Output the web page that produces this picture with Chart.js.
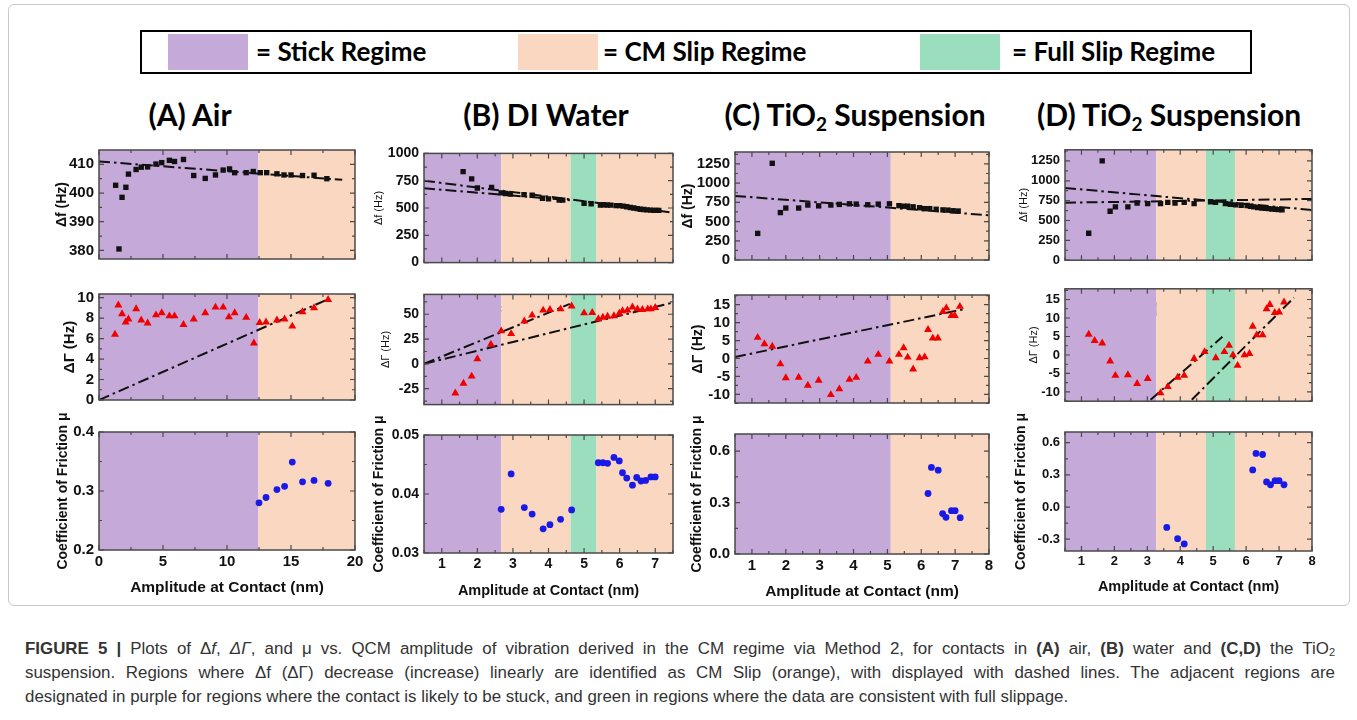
<!DOCTYPE html>
<html>
<head>
<meta charset="utf-8">
<script src="https://cdn.jsdelivr.net/npm/chart.js@4.4.1/dist/chart.umd.min.js"></script>
<style>
body { margin:0; background:#fff; width:1357px; height:720px; position:relative; overflow:hidden; font-family:'Liberation Sans', Arial, sans-serif; }
.abs { position:absolute; }
#frame { left:8px; top:4px; width:1340px; height:600px; border:1px solid #c8c8c8; border-radius:6px; }
#legend { left:140px; top:30px; width:1108px; height:40px; border:2px solid #000; }
.patch { position:absolute; top:2px; height:36px; width:80px; }
.lgtext { position:absolute; top:3px; line-height:40px; font:bold 26px Lato, sans-serif; color:#000; white-space:nowrap; }
.title { position:absolute; font:bold 30px Lato, sans-serif; color:#000; white-space:nowrap; transform:translateX(-50%); line-height:1; }
.title sub { font-size:19px; vertical-align:-5px; }
.note { position:absolute; font:bold 22px 'Liberation Serif', serif; white-space:nowrap; line-height:1; color:#000; }
canvas { position:absolute; }
#caption { left:25px; top:637px; width:1310px; font:16.9px 'Liberation Sans', Arial, sans-serif; color:#333; line-height:24px; }
#caption div { white-space:nowrap; }
#caption .j { text-align:justify; text-align-last:justify; }
#caption sub { font-size:11px; vertical-align:-2px; line-height:0; }
</style>
</head>
<body>
<div id="frame" class="abs"></div>
<div id="legend" class="abs">
  <div class="patch" style="left:26px;background:#c5a9d9"></div>
  <div class="lgtext" style="left:114px">= Stick Regime</div>
  <div class="patch" style="left:376px;background:#f9d7c0"></div>
  <div class="lgtext" style="left:461px">= CM Slip Regime</div>
  <div class="patch" style="left:778px;background:#9bdebd"></div>
  <div class="lgtext" style="left:870px">= Full Slip Regime</div>
</div>
<div class="title" style="left:190px;top:99px">(A) Air</div>
<div class="title" style="left:546px;top:99px">(B) DI Water</div>
<div class="title" style="left:855px;top:99px">(C) TiO<sub>2</sub> Suspension</div>
<div class="title" style="left:1169px;top:99px">(D) TiO<sub>2</sub> Suspension</div>
<div class="note" style="left:432px;top:298px">ΔΓ(0) = 0</div>
<div class="note" style="left:753px;top:296px">ΔΓ(0) = 0</div>
<div class="note" style="left:1076px;top:298px">ΔΓ(0) ≠ 0</div>
<div id="caption" class="abs">
  <div class="j"><b>FIGURE 5 |</b> Plots of Δ<i>f</i>, <i>ΔΓ</i>, and μ vs. QCM amplitude of vibration derived in the CM regime via Method 2, for contacts in <b>(A)</b> air, <b>(B)</b> water and <b>(C,D)</b> the TiO<sub>2</sub></div>
  <div class="j">suspension. Regions where Δf (ΔΓ) decrease (increase) linearly are identified as CM Slip (orange), with displayed with dashed lines. The adjacent regions are</div>
  <div>designated in purple for regions where the contact is likely to be stuck, and green in regions where the data are consistent with full slippage.</div>
</div>

<script>
// ---------- data ----------
// (A) Air
const aFx = [1.3,1.56,1.8,2.1,2.3,2.9,3.3,3.8,4.45,4.9,5.5,5.9,6.6,7.4,8.3,9.1,9.7,10.2,10.6,11.5,12.05,12.6,13.1,13.9,14.45,15.0,15.9,16.8,17.8];
const aFy = [402.7,380.5,398.5,402,406.6,408.2,409,409.1,410.1,410.6,411.4,411,411.7,406.1,405.1,406.3,408,408.4,407.1,407.1,407.5,407.1,407.1,406.7,406.3,406.3,406.1,406.2,405];
const aGx = [1.25,1.51,1.8,2.08,2.3,2.9,3.3,3.8,4.45,4.9,5.5,5.9,6.6,7.4,8.3,9.1,9.7,10.15,10.6,11.5,12.1,12.55,13.05,13.9,14.5,15.1,15.9,16.8,17.9];
const aGy = [6.4,9.26,8.4,7.6,7.9,8.9,7.8,7.5,8.3,8.5,8.2,8.2,7.35,7.9,8.5,9.05,9.05,8.1,8.5,8.05,5.55,7.55,7.6,7.8,7.9,7.2,8.6,9.0,9.8];
const aMx = [12.5,13.05,13.9,14.5,15.1,15.9,16.8,17.9];
const aMy = [0.28,0.289,0.3025,0.308,0.349,0.3155,0.318,0.313];
const aFitFx = [0,19], aFitFy = [411,404.6];
const aFitGx = [0,18], aFitGy = [0,9.9];
const aBounds = [0,12.45,20], aKinds = ['stick','slip'];

// (B) DI water
const bFx = [1.6,1.84,2.0,2.4,2.67,2.79,2.93,3.31,3.54,3.83,4.0,4.3,4.4,5.0,5.2,5.46,5.55,5.65,5.75,5.9,6.0,6.1,6.2,6.3,6.4,6.5,6.58,6.68,6.77,6.87,6.96,7.03,7.1];
const bFy = [833,767,683,689,639,633,628,622,617,589,583,572,572,544,539,528,530,528,526,522,522,517,511,505,500,494,489,486,483,480,478,478,478];
const bGx = [1.38,1.61,1.84,2.0,2.38,2.67,2.95,3.32,3.54,3.85,4.04,4.34,4.65,5.0,5.23,5.4,5.53,5.66,5.84,5.99,6.08,6.22,6.36,6.5,6.64,6.79,6.88,7.0];
const bGy = [-29.4,-19.7,-12.5,5,19.7,33.1,30.3,43.1,49,54,54.7,55.3,58.1,51.2,51.6,45.3,46.9,47.8,48.4,50.9,53.4,54,57.2,55.3,54.7,55.3,55.3,56.6];
const bMx = [2.67,2.95,3.32,3.54,3.85,4.04,4.34,4.65,5.4,5.53,5.66,5.84,5.99,6.08,6.2,6.36,6.48,6.6,6.73,6.88,7.0];
const bMy = [0.0374,0.0434,0.0377,0.0366,0.0341,0.0348,0.0357,0.0373,0.0453,0.0453,0.0452,0.0462,0.0456,0.0436,0.0427,0.0415,0.0428,0.0422,0.0423,0.0429,0.0429];
const bFit1x = [0.5,7.45], bFit1y = [750,460];
const bFit2x = [0.5,4.6], bFit2y = [680,572];
const bGFit1x = [0.5,4.6], bGFit1y = [0,60.4];
const bGFit2x = [0.5,7.5], bGFit2y = [0,61.8];
const bBounds = [0.5,2.67,4.62,5.35,7.5], bKinds = ['stick','slip','full','slip'];

// (C) TiO2 suspension
const cFx = [1.17,1.6,1.84,2.0,2.38,2.65,2.97,3.33,3.58,3.88,4.08,4.42,4.73,5.06,5.34,5.48,5.6,5.76,5.95,6.1,6.25,6.44,6.64,6.79,6.94,7.09];
const cFy = [346,1258,617,676,676,715,704,715,723,731,727,719,727,731,707,700,700,692,680,668,668,660,652,649,641,637];
const cGx = [1.17,1.37,1.6,1.84,2.0,2.38,2.65,2.97,3.33,3.58,3.88,4.08,4.42,4.73,5.06,5.34,5.48,5.6,5.76,5.95,6.1,6.2,6.34,6.49,6.64,6.74,6.89,6.99,7.14];
const cGy = [5.85,4.07,3.39,-1.53,-5.4,-5.25,-7.5,-6.1,-10.1,-8.5,-5.85,-5.3,-0.76,1.1,-0.76,1.1,2.97,0.34,-2.97,0.17,0.42,8.05,5.68,5.68,13.05,14.07,11.95,11.95,14.5];
const cMx = [6.2,6.3,6.5,6.63,6.73,6.89,7.0,7.15];
const cMy = [0.353,0.505,0.489,0.236,0.214,0.253,0.253,0.212];
const cFitx = [0.5,8.0], cFity = [833,582];
const cGFitx = [0.5,7.24], cGFity = [0.42,13.7];
const cBounds = [0.5,5.1,8], cKinds = ['stick','slip'];

// (D) TiO2 suspension
const dFx = [1.22,1.63,1.87,2.03,2.41,2.69,3.01,3.4,3.62,3.84,4.12,4.42,4.92,5.07,5.37,5.52,5.68,5.85,6.03,6.13,6.23,6.35,6.48,6.58,6.68,6.78,6.89,6.98,7.09];
const dFy = [340,1250,617,672,672,720,712,712,728,720,728,712,736,728,712,704,696,692,688,680,672,664,657,653,649,645,641,637,633];
const dGx = [1.22,1.4,1.63,1.87,2.03,2.41,2.69,3.01,3.4,3.62,3.92,4.12,4.42,4.74,5.08,5.34,5.48,5.6,5.74,5.95,6.1,6.2,6.32,6.5,6.62,6.72,6.87,7.0,7.15];
const dGy = [5.56,3.87,3.2,-1.67,-5.56,-5.4,-7.74,-6.4,-10.3,-8.6,-6.05,-5.56,-1.0,0.86,-0.8,0.86,2.6,0,-2.85,0,0.35,7.74,5.4,5.4,12.45,13.6,11.45,11.6,14.3];
const dMx = [3.59,3.92,4.12,6.2,6.3,6.5,6.62,6.74,6.88,7.0,7.15];
const dMy = [-0.19,-0.295,-0.344,0.346,0.5,0.49,0.234,0.208,0.246,0.246,0.208];
const dFit1x = [0.5,8], dFit1y = [910,633];
const dFit2x = [0.5,8], dFit2y = [724,771];
const dGFit1x = [3.1,5.28], dGFit1y = [-12.1,4.9];
const dGFit2x = [4.35,7.45], dGFit2y = [-12.1,15.5];
const dBounds = [0.5,3.27,4.78,5.66,8], dKinds = ['stick','slip','full','slip'];

// ticks
const xTicksA = [0,5,10,15,20], xMinorA = [2.5,7.5,12.5,17.5];
const xTicksB = [1,2,3,4,5,6,7], xMinorB = [0.5,1.5,2.5,3.5,4.5,5.5,6.5,7.5];
const xTicksCD = [1,2,3,4,5,6,7,8], xMinorCD = [0.5,1.5,2.5,3.5,4.5,5.5,6.5,7.5];
const fTicksA = [380,390,400,410], fMinorA = [385,395,405];
const gTicksA = [0,2,4,6,8,10], gMinorA = [1,3,5,7,9];
const mTicksA = [0.2,0.3,0.4], mMinorA = [0.25,0.35];
const fTicksB = [0,250,500,750,1000], fMinorB = [125,375,625,875];
const gTicksB = [-25,0,25,50], gMinorB = [-37.5,-12.5,12.5,37.5,62.5];
const mTicksB = [0.03,0.04,0.05], mMinorB = [0.035,0.045];
const fTicksCD = [0,250,500,750,1000,1250], fMinorCD = [125,375,625,875,1125,1375];
const gTicksCD = [-10,-5,0,5,10,15], gMinorCD = [-12.5,-7.5,-2.5,2.5,7.5,12.5,17.5];
const mTicksC = [0,0.3,0.6], mMinorC = [0.15,0.45];
const mTicksD = [-0.3,0,0.3,0.6], mMinorD = [-0.15,0.15,0.45];

// ---------- styles ----------
const REGION_COLORS = { stick: '#c5a9d9', slip: '#f9d7c0', full: '#9bdebd' };
const FRAME = '#4a4a4a';

function pts(xs, ys) { return xs.map((x, i) => ({ x: x, y: ys[i] })); }
function squares(xs, ys) {
    return { data: pts(xs, ys), pointStyle: 'rect', pointRadius: 3.8, backgroundColor: '#111', borderWidth: 0 };
}
function triangles(xs, ys) {
    return { data: pts(xs, ys), pointStyle: 'triangle', pointRadius: 4.6, backgroundColor: '#f00000', borderWidth: 0 };
}
function dots(xs, ys) {
    return { data: pts(xs, ys), pointStyle: 'circle', pointRadius: 3.4, backgroundColor: '#1a1ae6', borderWidth: 0 };
}
function fit(xs, ys) {
    return { type: 'line', data: pts(xs, ys), borderColor: '#111', borderWidth: 2,
             borderDash: [11, 4, 2.5, 4], pointRadius: 0, fill: false };
}

// ---------- panel builder ----------
function panel(o) {
    const padL = 80, padR = 20;
    const padT = o.bottomRow ? 48 : 12;
    const padB = o.bottomRow ? 52 : 6;
    const cv = document.createElement('canvas');
    cv.width = o.r - o.l + padL + padR;
    cv.height = o.b - o.t + padT + padB;
    cv.style.left = (o.l - padL) + 'px';
    cv.style.top = (o.t - padT) + 'px';
    document.body.appendChild(cv);

    const lh = o.yTitleSize * 1.2;
    const yTitlePad = o.yTitleX - (o.l - padL) - lh / 2;
    const xlh = (o.xTitleSize || 15) * 1.2;
    const xTitlePad = (o.b + padB) - o.xTitleY - xlh / 2;

    const regionPlugin = {
        id: 'regions',
        beforeDatasetsDraw(chart) {
            const { ctx, chartArea: ca, scales: { x } } = chart;
            ctx.save();
            for (let i = 0; i < o.kinds.length; i++) {
                const x0 = x.getPixelForValue(o.bounds[i]);
                const x1 = x.getPixelForValue(o.bounds[i + 1]);
                ctx.fillStyle = REGION_COLORS[o.kinds[i]];
                ctx.fillRect(x0, ca.top, x1 - x0, ca.bottom - ca.top);
            }
            ctx.restore();
        }
    };
    const framePlugin = {
        id: 'frame',
        afterDatasetsDraw(chart) {
            const { ctx, chartArea: ca, scales: { x, y } } = chart;
            ctx.save();
            ctx.strokeStyle = FRAME;
            ctx.lineWidth = 1.5;
            ctx.strokeRect(ca.left, ca.top, ca.right - ca.left, ca.bottom - ca.top);
            ctx.lineWidth = 1.2;
            ctx.beginPath();
            const tx = (vals, len) => vals.forEach(v => {
                const p = x.getPixelForValue(v);
                if (p < ca.left - 0.5 || p > ca.right + 0.5) return;
                ctx.moveTo(p, ca.bottom); ctx.lineTo(p, ca.bottom - len);
                ctx.moveTo(p, ca.top); ctx.lineTo(p, ca.top + len);
            });
            const ty = (vals, len) => vals.forEach(v => {
                const p = y.getPixelForValue(v);
                if (p < ca.top - 0.5 || p > ca.bottom + 0.5) return;
                ctx.moveTo(ca.left, p); ctx.lineTo(ca.left + len, p);
                ctx.moveTo(ca.right, p); ctx.lineTo(ca.right - len, p);
            });
            tx(o.xTicks, 5); tx(o.xMinor, 3);
            ty(o.yTicks, 5); ty(o.yMinor, 3);
            ctx.stroke();
            ctx.restore();
        }
    };

    new Chart(cv, {
        type: 'scatter',
        data: { datasets: o.datasets },
        options: {
            responsive: false,
            animation: false,
            devicePixelRatio: 1,
            layout: { padding: { left: 0, top: padT, right: padR, bottom: 0 } },
            plugins: { legend: { display: false }, tooltip: { enabled: false } },
            scales: {
                x: {
                    type: 'linear', min: o.xMin, max: o.xMax,
                    grid: { display: false, drawTicks: false }, border: { display: false },
                    afterBuildTicks: s => { s.ticks = o.xTicks.map(v => ({ value: v })); },
                    afterFit: s => { s.height = padB; },
                    ticks: { display: !!o.bottomRow, padding: 3, maxRotation: 0, autoSkip: false, color: '#111',
                             font: { family: 'Liberation Sans', size: o.tickSize, weight: 'bold' } },
                    title: { display: !!o.bottomRow, text: 'Amplitude at Contact (nm)', color: '#111',
                             font: { family: 'Liberation Sans', size: o.xTitleSize || 15, weight: 'bold' },
                             padding: { top: 0, bottom: xTitlePad } }
                },
                y: {
                    type: 'linear', min: o.yMin, max: o.yMax,
                    grid: { display: false, drawTicks: false }, border: { display: false },
                    afterBuildTicks: s => { s.ticks = o.yTicks.map(v => ({ value: v })); },
                    afterFit: s => { s.width = padL; },
                    ticks: { padding: 5, color: '#111', autoSkip: false,
                             font: { family: 'Liberation Sans', size: o.tickSize, weight: 'bold' },
                             callback: v => Number(v).toFixed(o.dec || 0) },
                    title: { display: true, text: o.yTitle, color: '#111',
                             font: { family: 'Liberation Sans', size: o.yTitleSize, weight: o.yTitleBold ? 'bold' : 'normal' },
                             padding: { top: yTitlePad, bottom: 0 } }
                }
            }
        },
        plugins: [regionPlugin, framePlugin]
    });
}

const MU = 'Coefficient of Friction \u03bc';

// column A
const colA = { l: 99, r: 355, xMin: 0, xMax: 20, xTicks: xTicksA, xMinor: xMinorA, bounds: aBounds, kinds: aKinds, tickSize: 15 };
panel({ ...colA, t: 148, b: 267, yMin: 377, yMax: 415, yTicks: fTicksA, yMinor: fMinorA,
        yTitle: '\u0394f (Hz)', yTitleSize: 14, yTitleBold: true, yTitleX: 62,
        datasets: [squares(aFx, aFy), fit(aFitFx, aFitFy)] });
panel({ ...colA, t: 292, b: 408, yMin: 0, yMax: 10.35, yTicks: gTicksA, yMinor: gMinorA,
        yTitle: '\u0394\u0393 (Hz)', yTitleSize: 15, yTitleBold: true, yTitleX: 70,
        datasets: [triangles(aGx, aGy), fit(aFitGx, aFitGy)] });
panel({ ...colA, t: 432, b: 550, yMin: 0.2, yMax: 0.4, yTicks: mTicksA, yMinor: mMinorA, dec: 1,
        yTitle: MU, yTitleSize: 14, yTitleBold: true, yTitleX: 63, bottomRow: true, xTitleSize: 15.5, xTitleY: 588,
        datasets: [dots(aMx, aMy)] });

// column B
const colB = { l: 424, r: 673, xMin: 0.5, xMax: 7.5, xTicks: xTicksB, xMinor: xMinorB, bounds: bBounds, kinds: bKinds, tickSize: 14 };
panel({ ...colB, t: 152, b: 270, yMin: 0, yMax: 1000, yTicks: fTicksB, yMinor: fMinorB,
        yTitle: '\u0394f (Hz)', yTitleSize: 11, yTitleBold: false, yTitleX: 379,
        datasets: [squares(bFx, bFy), fit(bFit1x, bFit1y), fit(bFit2x, bFit2y)] });
panel({ ...colB, t: 293, b: 412, yMin: -41, yMax: 70, yTicks: gTicksB, yMinor: gMinorB,
        yTitle: '\u0394\u0393 (Hz)', yTitleSize: 11, yTitleBold: false, yTitleX: 386,
        datasets: [triangles(bGx, bGy), fit(bGFit1x, bGFit1y), fit(bGFit2x, bGFit2y)] });
panel({ ...colB, t: 435, b: 553, yMin: 0.03, yMax: 0.05, yTicks: mTicksB, yMinor: mMinorB, dec: 2,
        yTitle: MU, yTitleSize: 14, yTitleBold: true, yTitleX: 379, bottomRow: true, xTitleSize: 14.5, xTitleY: 591,
        datasets: [dots(bMx, bMy)] });

// column C
const colC = { l: 735, r: 989, xMin: 0.5, xMax: 8, xTicks: xTicksCD, xMinor: xMinorCD, bounds: cBounds, kinds: cKinds, tickSize: 15 };
panel({ ...colC, t: 150, b: 268, yMin: 0, yMax: 1405, yTicks: fTicksCD, yMinor: fMinorCD,
        yTitle: '\u0394f (Hz)', yTitleSize: 14, yTitleBold: true, yTitleX: 688,
        datasets: [squares(cFx, cFy), fit(cFitx, cFity)] });
panel({ ...colC, t: 293, b: 411, yMin: -12.4, yMax: 17.7, yTicks: gTicksCD, yMinor: gMinorCD,
        yTitle: '\u0394\u0393 (Hz)', yTitleSize: 14, yTitleBold: true, yTitleX: 698,
        datasets: [triangles(cGx, cGy), fit(cGFitx, cGFity)] });
panel({ ...colC, t: 434, b: 554, yMin: 0, yMax: 0.7, yTicks: mTicksC, yMinor: mMinorC, dec: 1,
        yTitle: MU, yTitleSize: 14, yTitleBold: true, yTitleX: 697, bottomRow: true, xTitleSize: 15.5, xTitleY: 592,
        datasets: [dots(cMx, cMy)] });

// column D
const colD = { l: 1065, r: 1312, xMin: 0.5, xMax: 8, xTicks: xTicksCD, xMinor: xMinorCD, bounds: dBounds, kinds: dKinds, tickSize: 13 };
panel({ ...colD, t: 149, b: 267, yMin: 0, yMax: 1390, yTicks: fTicksCD, yMinor: fMinorCD,
        yTitle: '\u0394f (Hz)', yTitleSize: 11, yTitleBold: false, yTitleX: 1024,
        datasets: [squares(dFx, dFy), fit(dFit1x, dFit1y), fit(dFit2x, dFit2y)] });
panel({ ...colD, t: 288, b: 408, yMin: -12.5, yMax: 17.9, yTicks: gTicksCD, yMinor: gMinorCD,
        yTitle: '\u0394\u0393 (Hz)', yTitleSize: 11, yTitleBold: false, yTitleX: 1034,
        datasets: [triangles(dGx, dGy), fit(dGFit1x, dGFit1y), fit(dGFit2x, dGFit2y)] });
panel({ ...colD, t: 432, b: 551, yMin: -0.41, yMax: 0.70, yTicks: mTicksD, yMinor: mMinorD, dec: 1,
        yTitle: MU, yTitleSize: 14, yTitleBold: true, yTitleX: 1021, bottomRow: true, xTitleSize: 14.5, xTitleY: 587,
        datasets: [dots(dMx, dMy)] });
</script>
</body>
</html>
